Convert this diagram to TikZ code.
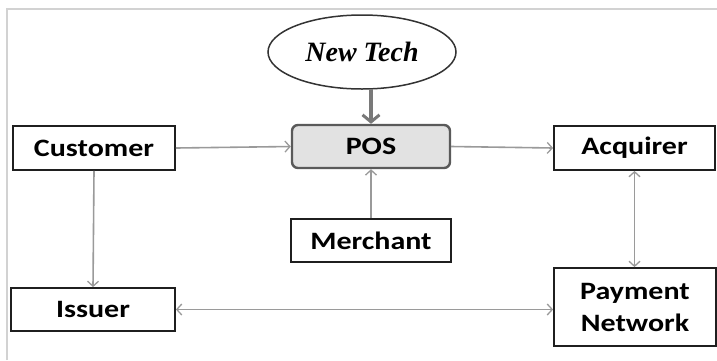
\documentclass[tikz,border=0pt]{standalone}
\usepackage{fontspec}
\setmainfont{Liberation Serif}
\newfontfamily\boxfont{Carlito}[FakeStretch=1.2]
\usetikzlibrary{shapes.geometric,arrows.meta}
\definecolor{framegray}{HTML}{D2D2D2}
\definecolor{arrowgray}{HTML}{9A9A9A}
\definecolor{posfill}{HTML}{E2E2E2}
\definecolor{posline}{HTML}{5A5A5A}
\tikzset{
  box/.style={draw=black!88, line width=1.8pt, fill=white, inner sep=0pt,
    font=\boxfont\bfseries\fontsize{25}{32}\selectfont, align=center},
  posbox/.style={box, draw=posline, fill=posfill, rounded corners=6pt, line width=2.4pt},
  conn/.style={draw=arrowgray, line width=1.6pt, -{Straight Barb[length=5pt,width=11pt,line width=1.3pt]}},
  dconn/.style={conn, {Straight Barb[length=5pt,width=11pt,line width=1.3pt]}-{Straight Barb[length=5pt,width=11pt,line width=1.3pt]}},
  thick conn/.style={draw=gray!95!black, line width=4pt, -{Straight Barb[length=7pt,width=17pt,line width=3pt]}},
  oval/.style={ellipse, draw=black!80, line width=1.5pt, inner sep=0pt,
    font=\bfseries\itshape\fontsize{28}{30}\selectfont}
}
\begin{document}
\begin{tikzpicture}[x=1pt,y=-1pt]
\useasboundingbox (0,0) rectangle (717,360);
\draw[framegray, line width=1.4pt] (7,360) -- (7,9) -- (717,9);
\node[oval, minimum width=188pt, minimum height=74pt] (tech) at (362,52) {New Tech};
\node[posbox, minimum width=158pt, minimum height=43pt] (pos) at (371,146.5) {POS};
\node[box, minimum width=162pt, minimum height=44pt] (cust) at (94,148) {Customer};
\node[box, minimum width=161pt, minimum height=44pt] (acq) at (634.5,148) {Acquirer};
\node[box, minimum width=160pt, minimum height=43pt] (merch) at (371,240.5) {Merchant};
\node[box, minimum width=164pt, minimum height=43pt] (iss) at (93,309.5) {Issuer};
\node[box, minimum width=162pt, minimum height=78pt] (pay) at (635,307) {Payment\\Network};
\draw[thick conn] (pos.north |- tech.south) -- (pos.north);
\draw[conn] (cust.east) -- (pos.west);
\draw[conn] (pos.east) -- (acq.west);
\draw[conn] (merch.north) -- (pos.south);
\draw[conn] (cust.south) -- (iss.north);
\draw[dconn] (iss.east) -- (pay.west |- iss.east);
\draw[dconn] (acq.south) -- (acq.south |- pay.north);
\end{tikzpicture}
\end{document}
